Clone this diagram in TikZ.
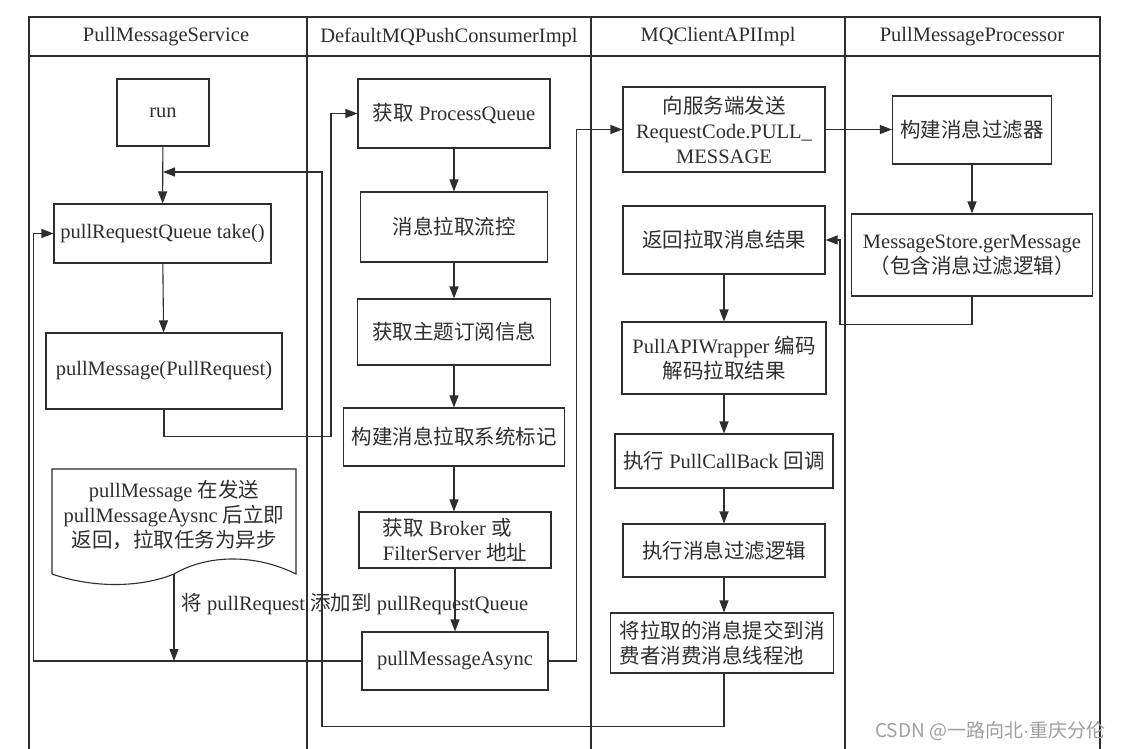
\documentclass[tikz,border=0pt]{standalone}
\usepackage{fontspec}
\usepackage{tikz}
\usetikzlibrary{arrows.meta}
\setmainfont{Liberation Serif}
\newfontfamily\cjk{Noto Sans CJK SC}
\newfontfamily\wmsans{Liberation Sans}
\definecolor{ink}{HTML}{2E2E2E}

\tikzset{
  box/.style={draw=ink, line width=1.1pt, inner sep=0pt, align=center, text=ink},
  frame/.style={draw=ink, line width=1.1pt},
  flow/.style={draw=ink, line width=1.1pt, -{Triangle[length=12pt,width=9pt]}}
}

\begin{document}
\begin{tikzpicture}[x=1pt, y=-1pt, font=\fontsize{20.5}{25}\selectfont]
\useasboundingbox[fill=white] (0,0) rectangle (1124,749);

% swimlanes
\draw[frame] (29,749) -- (29,17) -- (1100,17) -- (1100,749);
\draw[frame] (29,56) -- (1100,56);
\draw[frame] (307,17) -- (307,749);
\draw[frame] (591,17) -- (591,749);
\draw[frame] (845,17) -- (845,749);
\node[text=ink] (hdService) at (166,37) {PullMessageService};
\node[text=ink] (hdConsumer) at (449,37) {DefaultMQPushConsumerImpl};
\node[text=ink] (hdClient) at (718,37) {MQClientAPIImpl};
\node[text=ink] (hdProcessor) at (972,37) {PullMessageProcessor};

% PullMessageService
\node[box, minimum width=92pt, minimum height=67pt] (run) at (163,112.5) {run};
\node[box, minimum width=217pt, minimum height=59pt] (take) at (162.5,233.5) {pullRequestQueue take()};
\node[box, minimum width=236pt, minimum height=76pt] (pullMsg) at (164,371) {pullMessage(PullRequest)};
\draw[frame] (52,574) -- (52,469) -- (296,469) -- (296,574)
  .. controls (256,554) and (208,554) .. (174,574)
  .. controls (140,588) and (92,588) .. (52,574);
\node[text=ink, align=center] (note) at (174,515) {pullMessage {\cjk 在发送}\\pullMessageAysnc {\cjk 后立即}\\{\cjk 返回，拉取任务为异步}};
\coordinate (noteEnd) at (174,574);
\coordinate (runIn) at (163,172);

% DefaultMQPushConsumerImpl
\node[box, minimum width=192pt, minimum height=69pt] (pq) at (454,113.5) {{\cjk 获取} ProcessQueue};
\node[box, minimum width=187pt, minimum height=70pt] (flowCtl) at (454,227) {\cjk 消息拉取流控};
\node[box, minimum width=193pt, minimum height=66pt] (topic) at (454,332) {\cjk 获取主题订阅信息};
\node[box, minimum width=221pt, minimum height=58pt] (sysFlag) at (454,437) {\cjk 构建消息拉取系统标记};
\node[box, minimum width=192pt, minimum height=56pt, align=left] (addr) at (455,540) {{\cjk 获取} Broker {\cjk 或}\\FilterServer {\cjk 地址}};
\node[box, minimum width=186pt, minimum height=58pt] (async) at (455,661) {pullMessageAsync};

% MQClientAPIImpl
\node[box, minimum width=202pt, minimum height=85pt] (req) at (724,129.5) {{\cjk 向服务端发送}\\RequestCode.PULL\_\\MESSAGE};
\node[box, minimum width=202pt, minimum height=68pt] (ret) at (724,240) {\cjk 返回拉取消息结果};
\node[box, minimum width=204pt, minimum height=72pt] (wrap) at (724,358) {PullAPIWrapper {\cjk 编码}\\{\cjk 解码拉取结果}};
\node[box, minimum width=218pt, minimum height=54pt] (callback) at (724,461) {{\cjk 执行} PullCallBack {\cjk 回调}};
\node[box, minimum width=202pt, minimum height=53pt] (filt) at (724,550.5) {\cjk 执行消息过滤逻辑};
\node[box, minimum width=223pt, minimum height=60pt, align=left] (submit) at (722,643) {\cjk 将拉取的消息提交到消\\\cjk 费者消费消息线程池};

% PullMessageProcessor
\node[box, minimum width=159pt, minimum height=68pt] (filter) at (972,130) {\cjk 构建消息过滤器};
\node[box, minimum width=241pt, minimum height=82pt] (store) at (972,255) {MessageStore.gerMessage\\{\cjk （包含消息过滤逻辑）}};

% connectors
\draw[flow] (run) -- (take);
\draw[flow] (take) -- (pullMsg);
\draw[flow] (pullMsg.south) -- ++(0,27) -- ++(167,0) |- (pq.west);
\draw[flow] (pq) -- (flowCtl);
\draw[flow] (flowCtl) -- (topic);
\draw[flow] (topic) -- (sysFlag);
\draw[flow] (sysFlag.south) -- (sysFlag.south |- addr.north);
\draw[flow] (addr) -- (async);
\draw[flow] (async.east) -- ++(28,0) |- (req.west);
\draw[flow] (req.east) -- (req.east -| filter.west);
\draw[flow] (filter) -- (store);
\draw[flow] (store.south) -- ++(0,28) -- ++(-132,0) |- (ret.east);
\draw[flow] (ret) -- (wrap);
\draw[flow] (wrap) -- (callback);
\draw[flow] (callback) -- (filt);
\draw[flow] (filt.south) -- (filt.south |- submit.north);
\draw[flow] (submit.south -| filt.south) -- ++(0,53) -- ++(-402,0) |- (runIn);
\draw[flow] (async.west) -- ++(-328,0) |- (take.west);
\draw[flow] (noteEnd) -- (noteEnd |- async.west);
\node[text=ink, anchor=west] (addLabel) at (178,604) {{\cjk 将} pullRequest {\cjk 添加到} pullRequestQueue};

\node[text=gray!75, font=\cjk\fontsize{19}{22}\selectfont, anchor=east] (watermark) at (1109,731) {CSDN @一路向北{\wmsans ·}重庆分伦};

\end{tikzpicture}
\end{document}
